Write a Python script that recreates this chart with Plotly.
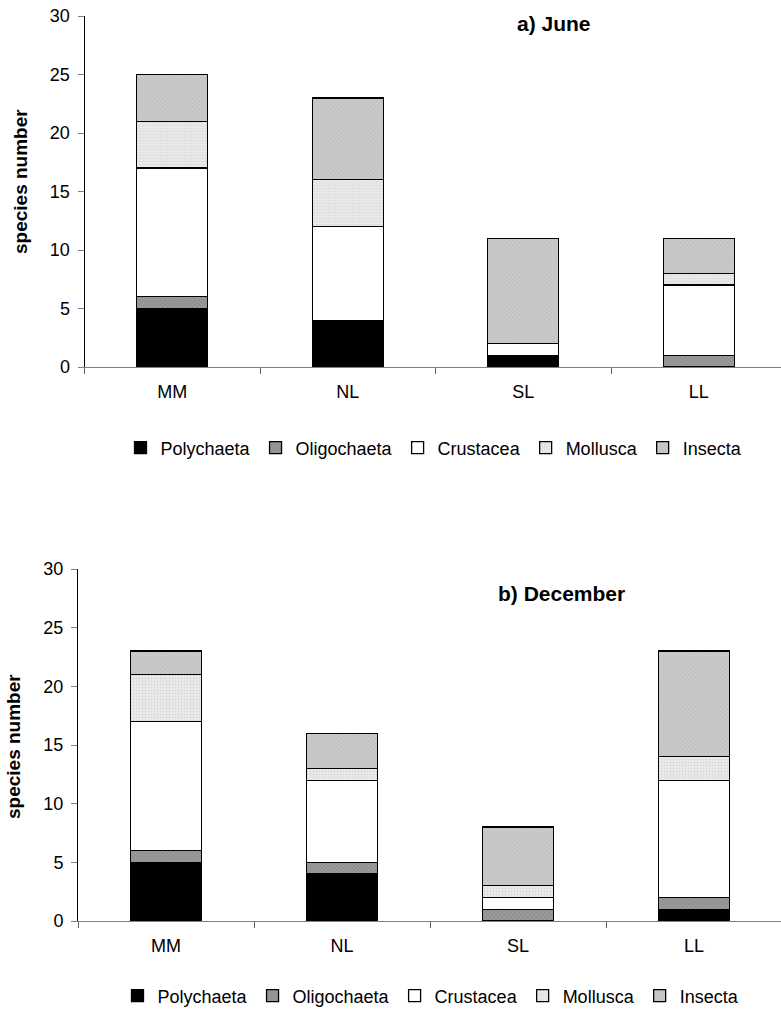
import plotly.graph_objects as go

sites = ["MM", "NL", "SL", "LL"]
groups = ["Polychaeta", "Oligochaeta", "Crustacea", "Mollusca", "Insecta"]

june_polychaeta = [5, 4, 1, 0]
june_oligochaeta = [1, 0, 0, 1]
june_crustacea = [11, 8, 1, 6]
june_mollusca = [4, 4, 0, 1]
june_insecta = [4, 7, 9, 3]

dec_polychaeta = [5, 4, 0, 1]
dec_oligochaeta = [1, 1, 1, 1]
dec_crustacea = [11, 7, 1, 10]
dec_mollusca = [4, 1, 1, 2]
dec_insecta = [2, 3, 5, 9]

june = [june_polychaeta, june_oligochaeta, june_crustacea, june_mollusca, june_insecta]
dec = [dec_polychaeta, dec_oligochaeta, dec_crustacea, dec_mollusca, dec_insecta]

styles = {
    "Polychaeta": dict(color="#000000", pattern=None),
    "Oligochaeta": dict(color="#8a8a8a", pattern=dict(shape="x", fgcolor="#5e5e5e", bgcolor="#9c9c9c", size=3, solidity=0.3, fillmode="overlay")),
    "Crustacea": dict(color="#ffffff", pattern=None),
    "Mollusca": dict(color="#e6e6e6", pattern=dict(shape=".", fgcolor="#bdbdbd", bgcolor="#ececec", size=3, solidity=0.3, fillmode="overlay")),
    "Insecta": dict(color="#c4c4c4", pattern=dict(shape="x", fgcolor="#a3a3a3", bgcolor="#cbcbcb", size=3, solidity=0.3, fillmode="overlay")),
}

W, H = 781, 1011
FONT = "Liberation Sans, Arial, sans-serif"
FS = 18

fig = go.Figure()
for data, xa, ya, lg in [(june, "x", "y", "legend"), (dec, "x2", "y2", "legend2")]:
    for name, vals in zip(groups, data):
        st = styles[name]
        marker = dict(color=st["color"], line=dict(color="#000000", width=1.3))
        if st["pattern"]:
            marker["pattern"] = st["pattern"]
        fig.add_trace(go.Bar(x=sites, y=vals, name=name, marker=marker,
                             xaxis=xa, yaxis=ya, legend=lg))

def py(p):
    return 1 - p / H

axis_common_y = dict(range=[0, 30], dtick=5, ticks="outside", ticklen=6, tickcolor="#808080",
                     showline=True, linecolor="#000000", linewidth=1, showgrid=False, zeroline=False,
                     ticklabelstandoff=4,
                     tickfont=dict(family=FONT, size=FS, color="#000"))
axis_common_x = dict(type="category", tickson="boundaries", ticks="outside", ticklen=6, tickcolor="#606060",
                     showline=True, linecolor="#808080", linewidth=1.2, showgrid=False,
                     ticklabelstandoff=8,
                     tickfont=dict(family=FONT, size=FS, color="#000"))

x1_left, sp1 = 84.5, 175.5
x2_left, sp2 = 78.0, 176.0

fig.update_layout(
    width=W, height=H, margin=dict(l=0, r=0, t=0, b=0, autoexpand=False),
    paper_bgcolor="white", plot_bgcolor="white",
    barmode="stack", bargap=0.595,
    font=dict(family=FONT, size=FS, color="#000"),
    xaxis=dict(domain=[x1_left / W, 1], anchor="y",
               range=[-0.5, (W - x1_left) / sp1 - 0.5], **axis_common_x),
    yaxis=dict(domain=[py(367), py(16)], anchor="x", **axis_common_y),
    xaxis2=dict(domain=[x2_left / W, 1], anchor="y2",
                range=[-0.5, (W - x2_left) / sp2 - 0.5], **axis_common_x),
    yaxis2=dict(domain=[py(921), py(569)], anchor="x2", **axis_common_y),
    legend=dict(orientation="h", x=434 / W, xanchor="center", y=py(448), yanchor="middle",
                font=dict(family=FONT, size=FS), itemwidth=30, tracegroupgap=0,
                traceorder="normal", bgcolor="rgba(0,0,0,0)"),
    legend2=dict(orientation="h", x=431 / W, xanchor="center", y=py(996), yanchor="middle",
                 font=dict(family=FONT, size=FS), itemwidth=30, tracegroupgap=0,
                 traceorder="normal", bgcolor="rgba(0,0,0,0)"),
    annotations=[
        dict(text="<b>a) June</b>", x=554 / W, y=py(23), xref="paper", yref="paper",
             xanchor="center", yanchor="middle",
             showarrow=False, font=dict(family=FONT, size=21)),
        dict(text="<b>b) December</b>", x=561 / W, y=py(593), xref="paper", yref="paper",
             xanchor="center", yanchor="middle",
             showarrow=False, font=dict(family=FONT, size=21)),
        dict(text="<b>species number</b>", x=20 / W, y=py(182), xref="paper", yref="paper",
             xanchor="center", yanchor="middle",
             textangle=-90, showarrow=False, font=dict(family=FONT, size=19)),
        dict(text="<b>species number</b>", x=13 / W, y=py(747), xref="paper", yref="paper",
             xanchor="center", yanchor="middle",
             textangle=-90, showarrow=False, font=dict(family=FONT, size=19)),
    ],
)

fig.write_html("out.html", config={"displayModeBar": False},
               post_script="document.body.style.margin='0px';")
